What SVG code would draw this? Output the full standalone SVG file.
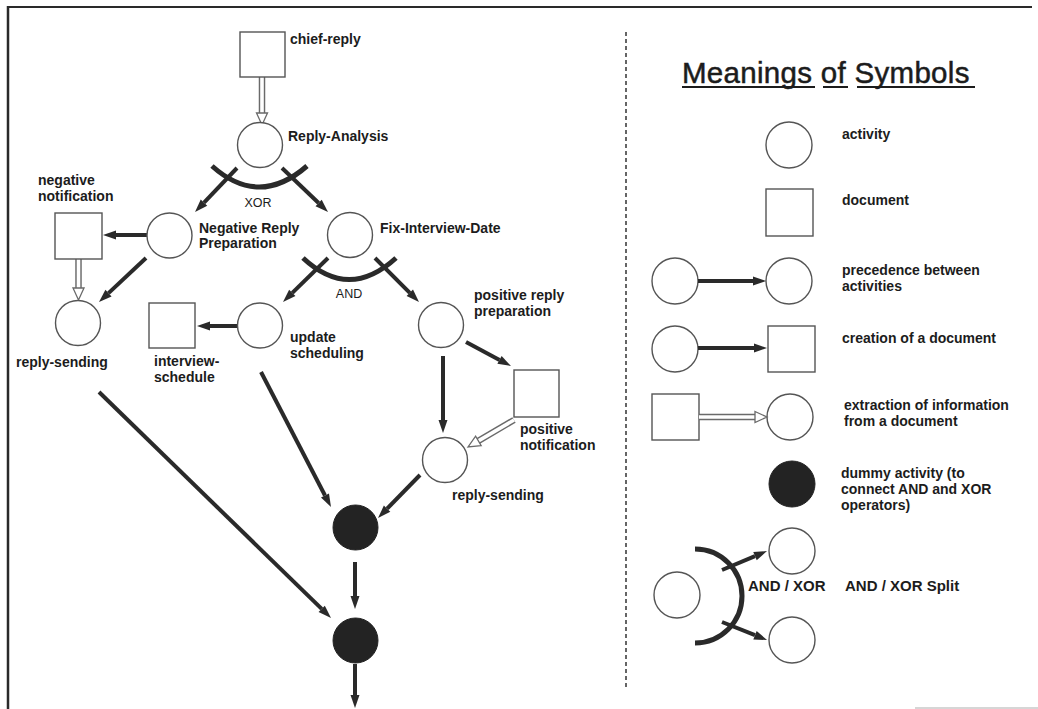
<svg xmlns="http://www.w3.org/2000/svg" width="1038" height="709" viewBox="0 0 1038 709">
  <style>
    .act { fill: #ffffff; stroke: #555555; stroke-width: 1.4; }
    .doc { fill: #ffffff; stroke: #555555; stroke-width: 1.4; }
    .dummy { fill: #232323; stroke: #232323; stroke-width: 1; }
    .flow { fill: none; stroke: #2a2a2a; stroke-width: 4; marker-end: url(#head); }
    .info-out { fill: none; stroke: #6a6a6a; stroke-width: 6.5; }
    .info-in { fill: none; stroke: #ffffff; stroke-width: 3.6; marker-end: url(#hollow); }
    .split { fill: none; stroke: #2a2a2a; stroke-width: 5; }
    .lbl { font-family: "Liberation Sans", Arial, Helvetica, sans-serif; font-size: 14px; font-weight: bold; fill: #1c1c1c; }
    .op { font-family: "Liberation Sans", Arial, Helvetica, sans-serif; font-size: 12.5px; fill: #1c1c1c; text-anchor: middle; }
    .op-big { font-family: "Liberation Sans", Arial, Helvetica, sans-serif; font-size: 15px; font-weight: bold; fill: #1c1c1c; }
    .title { font-family: "Liberation Sans", Arial, Helvetica, sans-serif; font-size: 29.5px; letter-spacing: 0.3px; fill: #1c1c1c; stroke: #1c1c1c; stroke-width: 0.5; }
  </style>
  <defs>
    <marker id="head" markerUnits="userSpaceOnUse" orient="auto" refX="0" refY="0" markerWidth="1" markerHeight="1" overflow="visible">
      <path d="M0,-4.5 L13,0 L0,4.5 z" fill="#2a2a2a"/>
    </marker>
    <marker id="hollow" markerUnits="userSpaceOnUse" orient="auto" refX="0" refY="0" markerWidth="1" markerHeight="1" overflow="visible">
      <path d="M0,-5.5 L12,0 L0,5.5 z" fill="#ffffff" stroke="#6a6a6a" stroke-width="1.3"/>
    </marker>
  </defs>

  <rect x="0" y="0" width="1038" height="709" fill="#ffffff"/>

  <!-- page frame and column divider -->
  <g id="frame">
    <line x1="7" y1="7" x2="1032" y2="7" stroke="#2a2a2a" stroke-width="2"/>
    <line x1="8" y1="6" x2="8" y2="709" stroke="#2a2a2a" stroke-width="2.5"/>
    <line x1="915" y1="708" x2="1038" y2="708" stroke="#c8c8c8" stroke-width="1.5"/>
    <line x1="626" y1="32" x2="626" y2="688" stroke="#333333" stroke-width="1.5" stroke-dasharray="4 3"/>
  </g>

  <!-- connectors -->
  <g id="connectors">
    <!-- XOR / AND split bars -->
    <path class="split" d="M212,166 Q259,208 307,166"/>
    <path class="split" d="M303,258 Q349,301 396,258"/>

    <!-- precedence / creation arrows -->
    <path class="flow" d="M237,168 L204,202.6"/>
    <path class="flow" d="M282,168 L318.6,203"/>
    <path class="flow" d="M147,235 L116,235"/>
    <path class="flow" d="M146,258 L108.5,293.1"/>
    <path class="flow" d="M328,258 L292.3,292.9"/>
    <path class="flow" d="M375,258 L409.8,292.8"/>
    <path class="flow" d="M237,326 L210,326"/>
    <path class="flow" d="M466,342 L499.5,359.9"/>
    <path class="flow" d="M443,356 L443,420"/>
    <path class="flow" d="M420,475 L387.1,508.7"/>
    <path class="flow" d="M261,372 L325,495.5"/>
    <path class="flow" d="M99,392 L321.7,608.9"/>
    <path class="flow" d="M355,562 L355,596"/>
    <path class="flow" d="M355,664 L355,695"/>

    <!-- information extraction arrows -->
    <path class="info-out" d="M262,77 L262,113"/>
    <path class="info-in" d="M262,77 L262,113"/>
    <path class="info-out" d="M78.5,259 L78.5,288"/>
    <path class="info-in" d="M78.5,259 L78.5,288"/>
    <path class="info-out" d="M514,420 L478.4,440.9"/>
    <path class="info-in" d="M514,420 L478.4,440.9"/>
  </g>

  <!-- process nodes -->
  <g id="chief-reply">
    <rect class="doc" x="240" y="32" width="45" height="45"/>
    <text class="lbl" x="290" y="44">chief-reply</text>
  </g>
  <g id="reply-analysis">
    <circle class="act" cx="260" cy="145" r="22.5"/>
    <text class="lbl" x="288" y="141">Reply-Analysis</text>
  </g>
  <g id="xor-split">
    <text class="op" x="258" y="207">XOR</text>
  </g>
  <g id="negative-notification">
    <rect class="doc" x="55" y="213" width="47" height="46"/>
    <text class="lbl" x="38" y="185">negative</text>
    <text class="lbl" x="38" y="201">notification</text>
  </g>
  <g id="negative-reply-preparation">
    <circle class="act" cx="169.5" cy="235.5" r="22.5"/>
    <text class="lbl" x="199" y="233">Negative Reply</text>
    <text class="lbl" x="199" y="248">Preparation</text>
  </g>
  <g id="fix-interview-date">
    <circle class="act" cx="350" cy="235" r="22.5"/>
    <text class="lbl" x="380" y="233">Fix-Interview-Date</text>
  </g>
  <g id="and-split">
    <text class="op" x="349" y="298">AND</text>
  </g>
  <g id="reply-sending-negative">
    <circle class="act" cx="78" cy="323" r="22.5"/>
    <text class="lbl" x="16" y="367">reply-sending</text>
  </g>
  <g id="interview-schedule">
    <rect class="doc" x="149" y="303" width="46" height="45"/>
    <text class="lbl" x="154" y="366">interview-</text>
    <text class="lbl" x="154" y="382">schedule</text>
  </g>
  <g id="update-scheduling">
    <circle class="act" cx="260" cy="325.5" r="22.5"/>
    <text class="lbl" x="290" y="342">update</text>
    <text class="lbl" x="290" y="358">scheduling</text>
  </g>
  <g id="positive-reply-preparation">
    <circle class="act" cx="441" cy="325" r="22.5"/>
    <text class="lbl" x="474" y="300">positive reply</text>
    <text class="lbl" x="474" y="316">preparation</text>
  </g>
  <g id="positive-notification">
    <rect class="doc" x="514" y="370" width="45" height="47"/>
    <text class="lbl" x="520" y="434">positive</text>
    <text class="lbl" x="520" y="450">notification</text>
  </g>
  <g id="reply-sending-positive">
    <circle class="act" cx="445" cy="460" r="22.5"/>
    <text class="lbl" x="452" y="500">reply-sending</text>
  </g>
  <g id="dummy-1">
    <circle class="dummy" cx="355.5" cy="527.5" r="22.5"/>
  </g>
  <g id="dummy-2">
    <circle class="dummy" cx="355.5" cy="640.5" r="22.5"/>
  </g>

  <!-- symbol legend -->
  <g id="legend-title">
    <text class="title" x="682" y="83">Meanings of Symbols</text>
    <line x1="682" y1="87" x2="815" y2="87" stroke="#1c1c1c" stroke-width="2"/>
    <line x1="823" y1="87" x2="848" y2="87" stroke="#1c1c1c" stroke-width="2"/>
    <line x1="857" y1="87" x2="975" y2="87" stroke="#1c1c1c" stroke-width="2"/>
  </g>
  <g id="legend-activity">
    <circle class="act" cx="789" cy="145" r="23"/>
    <text class="lbl" x="842" y="139">activity</text>
  </g>
  <g id="legend-document">
    <rect class="doc" x="766" y="189" width="47" height="47"/>
    <text class="lbl" x="842" y="205">document</text>
  </g>
  <g id="legend-precedence">
    <circle class="act" cx="675" cy="281" r="23"/>
    <circle class="act" cx="789" cy="281" r="23"/>
    <path class="flow" d="M698,281 L753,281"/>
    <text class="lbl" x="842" y="275">precedence between</text>
    <text class="lbl" x="842" y="291">activities</text>
  </g>
  <g id="legend-creation">
    <circle class="act" cx="675" cy="349" r="23"/>
    <rect class="doc" x="768" y="326" width="47" height="46"/>
    <path class="flow" d="M698,348 L754,348"/>
    <text class="lbl" x="842" y="343">creation of a document</text>
  </g>
  <g id="legend-extraction">
    <rect class="doc" x="652" y="394" width="47" height="46"/>
    <circle class="act" cx="790" cy="417" r="23"/>
    <path class="info-out" d="M699,417 L755,417"/>
    <path class="info-in" d="M699,417 L755,417"/>
    <text class="lbl" x="844" y="410">extraction of information</text>
    <text class="lbl" x="844" y="426">from a document</text>
  </g>
  <g id="legend-dummy">
    <circle class="dummy" cx="792" cy="484" r="23"/>
    <text class="lbl" x="841" y="478">dummy activity (to</text>
    <text class="lbl" x="841" y="494">connect AND and XOR</text>
    <text class="lbl" x="841" y="510">operators)</text>
  </g>
  <g id="legend-split">
    <circle class="act" cx="677" cy="595" r="23"/>
    <circle class="act" cx="792" cy="551" r="23"/>
    <circle class="act" cx="792" cy="640" r="23"/>
    <path class="split" d="M695,549 A47,47 0 0 1 695,643" stroke-width="6"/>
    <path class="flow" d="M722,570 L755,556.1"/>
    <path class="flow" d="M722,622 L755,635.2"/>
    <text class="op-big" x="748" y="591">AND / XOR</text>
    <text class="op-big" x="845" y="591">AND / XOR Split</text>
  </g>
</svg>
